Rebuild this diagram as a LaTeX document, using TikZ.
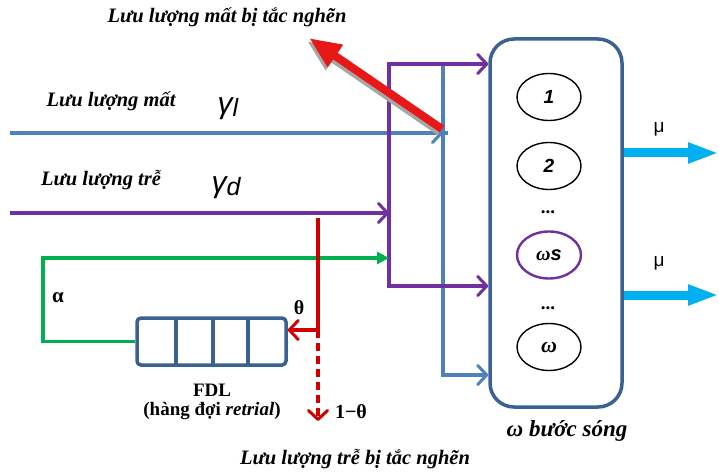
\documentclass[tikz,border=0pt]{standalone}
\usepackage{fontspec}
\setmainfont{Liberation Serif}
\newfontfamily\arial{Liberation Sans}
\usetikzlibrary{arrows.meta,shapes.geometric}
\definecolor{cblue}{HTML}{4F81BD}
\definecolor{cpurple}{HTML}{7030A0}
\definecolor{cgreen}{HTML}{00B050}
\definecolor{cred}{HTML}{D00000}
\definecolor{cbig}{HTML}{E81818}
\definecolor{cbox}{HTML}{3A6094}
\definecolor{ccyan}{HTML}{00B0F0}
\begin{document}
\begin{tikzpicture}[x=1pt,y=-1pt,
  flow/.style={line width=3.4pt},
  barb/.style={-{Straight Barb[length=9pt,width=19pt,line width=3pt,round]}},
  lbl/.style={font=\fontsize{20.5}{23}\selectfont\bfseries\itshape, inner sep=0pt},
  plain/.style={font=\fontsize{19}{22}\selectfont\bfseries, inner sep=0pt},
  ell/.style={ellipse, draw, line width=1.4pt, minimum width=64pt, minimum height=47pt, inner sep=0pt},
  qcell/.style={draw=cbox, line width=3.5pt}]
\useasboundingbox (0,0) rectangle (719,473);

% big box of wavelengths
\node[draw=cbox, line width=3.5pt, rounded corners=24pt, minimum width=132pt, minimum height=368pt, inner sep=0pt] (box) at (556,223) {};
\node[ell] (e1) at (549,97) {\arial\bfseries\itshape\fontsize{19}{22}\selectfont 1};
\node[ell] (e2) at (549,166) {\arial\bfseries\itshape\fontsize{19}{22}\selectfont 2};
\node[plain] (d1) at (548,212) {...};
\node[ell, draw=cpurple, line width=2.4pt] (ews) at (549,255) {\fontsize{20}{22}\selectfont\bfseries\itshape ω\arial s};
\node[plain] (d2) at (548,308) {...};
\node[ell] (ew) at (549,347) {\fontsize{22}{24}\selectfont\bfseries\itshape ω};
\node[lbl, font=\fontsize{23}{26}\selectfont\bfseries\itshape] (boxlbl) at (567,431) {ω bước sóng};

% output arrows
\coordinate (o1) at (719,153);
\coordinate (o2) at (719,295);
\draw[ccyan, line width=9pt, -{Triangle[length=31pt,width=19pt]}] (box.east |- o1) -- (o1);
\draw[ccyan, line width=9pt, -{Triangle[length=31pt,width=19pt]}] (box.east |- o2) -- (o2);
\node[font=\arial\fontsize{19}{21}\selectfont] (mu1) at (659,129) {μ};
\node[font=\arial\fontsize{19}{21}\selectfont] (mu2) at (659,263) {μ};

% lost traffic (blue)
\coordinate (bl0) at (10,133);
\coordinate (bv) at (443,133);
\coordinate (bvt) at (443,65);
\coordinate (bvb) at (443,375);
\draw[flow, cblue, barb] (bl0) -- (bv);
\draw[flow, cblue] (bv) -- ++(5,0);
\draw[flow, cblue, barb] (bvt) -- (bvb) -- (box.west |- bvb);

% delayed traffic (purple)
\coordinate (pl0) at (10,213);
\coordinate (pv) at (389,213);
\coordinate (pvt) at (389,64);
\coordinate (pvb) at (389,286);
\draw[flow, cpurple, barb] (pl0) -- (pv);
\draw[flow, cpurple, barb] (pv) -- (pvt) -- (box.west |- pvt);
\draw[flow, cpurple, barb] (pv) -- (pvb) -- (box.west |- pvb);

% FDL queue
\node[draw=cbox, line width=3.5pt, rounded corners=4pt, minimum width=149pt, minimum height=47pt, inner sep=0pt] (queue) at (211.5,341.5) {};
\draw[qcell] (176,318) -- (176,365);
\draw[qcell] (213,318) -- (213,365);
\draw[qcell] (248,318) -- (248,365);
\node[plain] (fdl) at (212,390) {FDL};
\node[plain] (fdl2) at (212,411) {(hàng đợi \textit{retrial})};

% retrial loop (green)
\coordinate (g1) at (43,341.5);
\coordinate (g2) at (43,258);
\draw[flow, cgreen, -{Triangle[length=12pt,width=12pt]}] (queue.west) -- (g1) -- (g2) -- (pv |- g2);
\node[plain, font=\fontsize{21}{23}\selectfont\bfseries] (alpha) at (58,298) {α};

% blocked delayed traffic (red)
\coordinate (rt) at (318,218);
\coordinate (rj) at (318,330);
\coordinate (rd) at (318,421);
\draw[flow, cred, barb] (rt) -- (rj) -- (queue.east |- rj);
\draw[flow, cred, dash pattern=on 8pt off 5pt, barb] (rj) -- (rd);
\node[plain, font=\fontsize{20}{22}\selectfont\bfseries] (theta) at (299,308) {θ};
\node[plain, font=\fontsize{20}{22}\selectfont\bfseries] (theta2) at (351,412) {1−θ};
\node[lbl] (blkd) at (355,459) {Lưu lượng trễ bị tắc nghẽn};

% blocked lost traffic (big red arrow)
\coordinate (bt) at (442,129);
\coordinate (bh) at (309,38);
\draw[black!35, line width=8pt, -{Triangle[length=32pt,width=25pt]}] ([shift={(-2,3)}]bt) -- ([shift={(-2,3)}]bh);
\draw[cbig, line width=8pt, -{Triangle[length=32pt,width=25pt]}] (bt) -- (bh);
\node[lbl] (blkl) at (227,17) {Lưu lượng mất bị tắc nghẽn};

% input labels
\node[lbl] (ll) at (111,101) {Lưu lượng mất};
\node[lbl] (ld) at (101,180) {Lưu lượng trễ};
\node[inner sep=0pt] (gl) at (228,109) {\arial\itshape\fontsize{30}{32}\selectfont γ\raisebox{-3pt}{\fontsize{25}{27}\selectfont l}};
\node[inner sep=0pt] (gd) at (226,188) {\arial\itshape\fontsize{30}{32}\selectfont γ\raisebox{-3pt}{\fontsize{25}{27}\selectfont d}};
\end{tikzpicture}
\end{document}
